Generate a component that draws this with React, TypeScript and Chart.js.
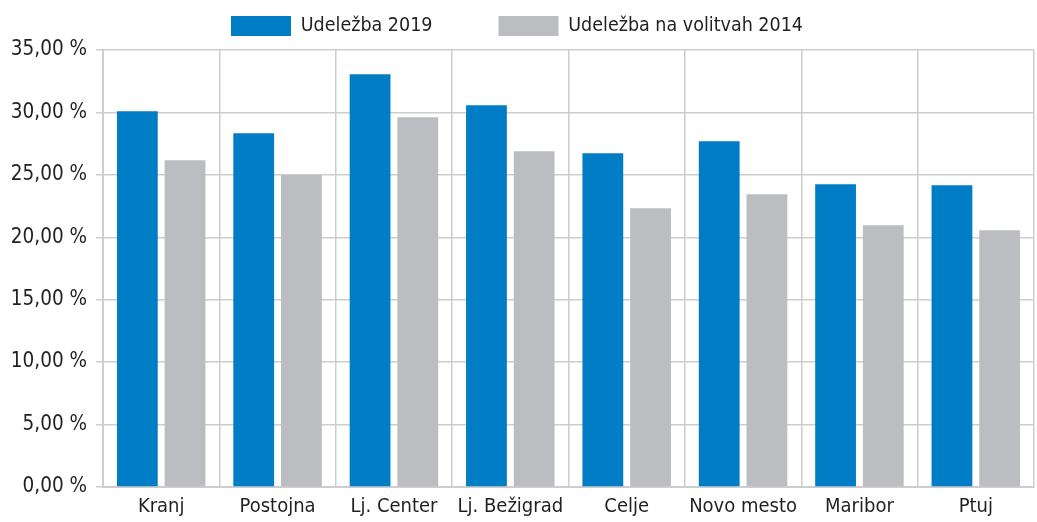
import React, { useEffect, useRef } from "react";
import { Chart, registerables } from "chart.js";

Chart.register(...registerables);

const categories = ["Kranj", "Postojna", "Lj. Center", "Lj. Bežigrad", "Celje", "Novo mesto", "Maribor", "Ptuj"];
const turnout2019 = [30.1, 28.33, 33.05, 30.57, 26.73, 27.69, 24.24, 24.16];
const turnout2014 = [26.17, 24.99, 29.61, 26.89, 22.32, 23.44, 20.96, 20.56];
const seriesLabels = ["Udeležba 2019", "Udeležba na volitvah 2014"];
const yTicks = { min: 0, max: 35, step: 5 };

const FONT = '"Liberation Sans Narrow", "DejaVu Sans Condensed", "Roboto Condensed", Roboto, sans-serif';
const TEXT = "#231f20";
const GRID = "#cdcdcd";

export default function App() {
  const ref = useRef<HTMLCanvasElement | null>(null);
  useEffect(() => {
    if (!ref.current) return;
    const chart = new Chart(ref.current, {
      type: "bar",
      data: {
        labels: categories,
        datasets: [
          { label: seriesLabels[0], data: turnout2019, backgroundColor: "#007dc5", categoryPercentage: 0.82, barPercentage: 0.855 },
          { label: seriesLabels[1], data: turnout2014, backgroundColor: "#bcbdc0", categoryPercentage: 0.82, barPercentage: 0.855 },
        ],
      },
      options: {
        animation: false,
        responsive: true,
        maintainAspectRatio: false,
        layout: { padding: { top: -50, right: 3, left: 0, bottom: 0 } },
        plugins: {
          tooltip: { enabled: false },
          title: {
            display: true,
            text: "",
            padding: 0,
            weight: 500,
            font: { size: 4, lineHeight: 1 },
          } as any,
          legend: {
            position: "top",
            labels: {
              boxWidth: 60,
              boxHeight: 20,
              padding: 66,
              color: TEXT,
              font: { family: FONT, size: 19.5 },
            },
          },
        },
        scales: {
          x: {
            grid: { color: GRID, offset: true, drawTicks: false, lineWidth: 1.5 },
            border: { color: GRID, width: 2 },
            ticks: {
              color: TEXT,
              font: { family: FONT, size: 20 },
              padding: 8,
              maxRotation: 0,
              minRotation: 0,
              autoSkip: false,
            },
            afterFit: (s: any) => { s.height = 35; },
          },
          y: {
            min: yTicks.min,
            max: yTicks.max,
            grid: { color: GRID, tickLength: 7, lineWidth: 1.5 },
            border: { color: GRID, width: 2 },
            ticks: {
              stepSize: yTicks.step,
              color: TEXT,
              padding: 9,
              font: { family: FONT, size: 20.5 },
              callback: (v: any) => Number(v).toFixed(2).replace(".", ",") + " %",
            },
            afterFit: (s: any) => { s.width = 103; },
          },
        },
      },
    });
    return () => chart.destroy();
  }, []);
  return (
    <div style={{ position: "absolute", left: 0, top: 0, width: 1037, height: 522, background: "#fff" }}>
      <canvas ref={ref} />
    </div>
  );
}
